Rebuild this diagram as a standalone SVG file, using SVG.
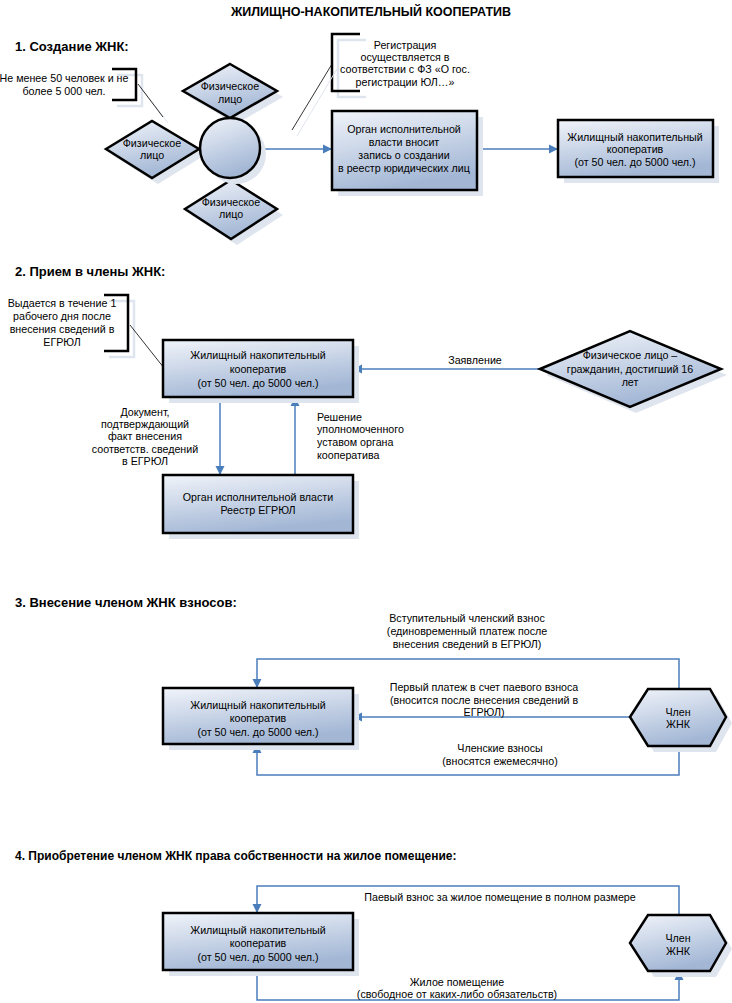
<svg xmlns="http://www.w3.org/2000/svg" width="732" height="1003" viewBox="0 0 732 1003">
<defs>
<linearGradient id="g" x1="0" y1="0" x2="0.35" y2="1">
<stop offset="0" stop-color="#f1f4fa"/>
<stop offset="1" stop-color="#a3b7d5"/>
</linearGradient>
<marker id="arr" markerUnits="userSpaceOnUse" markerWidth="10" markerHeight="10" refX="9" refY="5" orient="auto">
<path d="M0,0.5 L9,5 L0,9.5 z" fill="#4a7ebb"/>
</marker>
<style>
.sh{fill:#dfe5ee;stroke:none}
.shl{fill:none;stroke:#dfe5ee;stroke-width:2.5}
.shn{fill:none;stroke:#dfe5ee;stroke-width:1}
.nd{fill:url(#g);stroke:#000;stroke-width:2.5}
.br{fill:none;stroke:#000;stroke-width:2.5}
.ld{fill:none;stroke:#000;stroke-width:0.8}
.c{fill:none;stroke:#4a7ebb;stroke-width:1.5}
.ca{fill:none;stroke:#4a7ebb;stroke-width:1.5;marker-end:url(#arr)}
text{font-family:"Liberation Sans",Arial,sans-serif;font-size:10.7px;fill:#000}
.m{text-anchor:middle}
.h{font-weight:bold;font-size:13px}
.h4{font-weight:bold;font-size:12px}
.tt{font-weight:bold;font-size:12.5px}
</style>
</defs>
<rect width="732" height="1003" fill="#fff"/>

<g id="titles">
<text class="tt m" x="371" y="16">ЖИЛИЩНО-НАКОПИТЕЛЬНЫЙ КООПЕРАТИВ</text>
<text class="h" x="15" y="51">1. Создание ЖНК:</text>
<text class="h" x="15" y="276">2. Прием в члены ЖНК:</text>
<text class="h" x="15" y="607">3. Внесение членом ЖНК взносов:</text>
<text class="h4" x="15" y="860">4. Приобретение членом ЖНК права собственности на жилое помещение:</text>
</g>

<!-- Section 1 -->
<g id="note1">
<path class="shl" d="M117,75 H142 V106 H117"/>
<path class="br" d="M112,69 H136 V100 H112"/>
<line class="shn" x1="143" y1="90" x2="168" y2="123"/>
<line class="ld" x1="138" y1="84" x2="163" y2="117"/>
<text class="m" x="64" y="82">Не менее 50 человек и не</text>
<text class="m" x="64" y="95">более 5 000 чел.</text>
</g>
<g id="note2">
<path class="shl" d="M366,40 H338 V97 H366"/>
<path class="br" d="M360,34 H332 V91 H360"/>
<line class="shn" x1="337" y1="69" x2="297" y2="136"/>
<line class="ld" x1="332" y1="64" x2="292" y2="130"/>
<text class="m" x="405" y="49">Регистрация</text>
<text class="m" x="405" y="61">осуществляется в</text>
<text class="m" x="405" y="73">соответствии с ФЗ «О гос.</text>
<text class="m" x="405" y="86">регистрации ЮЛ…»</text>
</g>

<g id="connectors">
<path class="ca" d="M260,149 H332"/>
<path class="ca" d="M477,149 H558"/>
<path class="ca" d="M540,369 H353"/>
<path class="ca" d="M220,397 V475"/>
<path class="ca" d="M295,475 V397"/>
<path class="ca" d="M679,689 V659 H257 V688"/>
<path class="ca" d="M630,717 H353"/>
<path class="ca" d="M679,746 V775 H257 V744"/>
<path class="ca" d="M679,915 V886 H257 V913"/>
<path class="ca" d="M257,970 V1000 H679 V971"/>
</g>

<g id="d-top">
<polygon class="sh" points="236,70 283,97 236,124 189,97"/>
<polygon class="nd" points="230,64 277,91 230,118 183,91"/>
<text class="m" x="230" y="90">Физическое</text>
<text class="m" x="230" y="103">лицо</text>
</g>
<g id="d-left">
<polygon class="sh" points="112,155 158,127 205,155 158,184"/>
<polygon class="nd" points="106,149 152,121 199,149 152,178"/>
<text class="m" x="152" y="147">Физическое</text>
<text class="m" x="152" y="159">лицо</text>
</g>
<g id="d-bottom">
<polygon class="sh" points="237,186 283,215 237,245 191,215"/>
<polygon class="nd" points="231,180 277,209 231,239 185,209"/>
<text class="m" x="231" y="206">Физическое</text>
<text class="m" x="231" y="218">лицо</text>
</g>
<g id="circle">
<circle class="sh" cx="236" cy="154" r="30"/>
<circle class="nd" cx="230" cy="148" r="30"/>
</g>
<g id="organ1">
<rect class="sh" x="338" y="117" width="145" height="79"/>
<rect class="nd" x="332" y="111" width="145" height="79"/>
<text class="m" x="404" y="133">Орган исполнительной</text>
<text class="m" x="404" y="146">власти вносит</text>
<text class="m" x="404" y="159">запись о создании</text>
<text class="m" x="404" y="172">в реестр юридических лиц</text>
</g>
<g id="zhnk1">
<rect class="sh" x="564" y="126" width="155" height="57"/>
<rect class="nd" x="558" y="120" width="155" height="57"/>
<text class="m" x="635" y="141">Жилищный накопительный</text>
<text class="m" x="635" y="153">кооператив</text>
<text class="m" x="635" y="166">(от 50 чел. до 5000 чел.)</text>
</g>

<!-- Section 2 -->
<g id="note3">
<path class="shl" d="M109,301 H134 V357 H109"/>
<path class="br" d="M104,295 H128 V351 H104"/>
<line class="ld" x1="130" y1="325" x2="164" y2="368"/>
<text class="m" x="62" y="307">Выдается в течение 1</text>
<text class="m" x="62" y="320">рабочего дня после</text>
<text class="m" x="62" y="333">внесения сведений в</text>
<text class="m" x="62" y="346">ЕГРЮЛ</text>
</g>
<g id="zhnk2">
<rect class="sh" x="169" y="346" width="190" height="57"/>
<rect class="nd" x="163" y="340" width="190" height="57"/>
<text class="m" x="258" y="359">Жилищный накопительный</text>
<text class="m" x="258" y="373">кооператив</text>
<text class="m" x="258" y="387">(от 50 чел. до 5000 чел.)</text>
</g>
<g id="organ2">
<rect class="sh" x="169" y="481" width="190" height="58"/>
<rect class="nd" x="163" y="475" width="190" height="58"/>
<text class="m" x="258" y="501">Орган исполнительной власти</text>
<text class="m" x="258" y="514">Реестр ЕГРЮЛ</text>
</g>
<g id="person2">
<polygon class="sh" points="546,375 636,337 727,375 636,413"/>
<polygon class="nd" points="540,369 630,331 721,369 630,407"/>
<text class="m" x="630" y="359">Физическое лицо –</text>
<text class="m" x="630" y="373">гражданин, достигший 16</text>
<text class="m" x="630" y="386">лет</text>
</g>
<g id="labels2">
<text class="m" x="475" y="364">Заявление</text>
<text class="m" x="145" y="416">Документ,</text>
<text class="m" x="145" y="428">подтверждающий</text>
<text class="m" x="145" y="440">факт внесения</text>
<text class="m" x="145" y="453">соответств. сведений</text>
<text class="m" x="145" y="465">в ЕГРЮЛ</text>
<text x="317" y="421">Решение</text>
<text x="317" y="433">уполномоченного</text>
<text x="317" y="446">уставом органа</text>
<text x="317" y="459">кооператива</text>
</g>

<!-- Section 3 -->
<g id="zhnk3">
<rect class="sh" x="169" y="694" width="190" height="56"/>
<rect class="nd" x="163" y="688" width="190" height="56"/>
<text class="m" x="258" y="709">Жилищный накопительный</text>
<text class="m" x="258" y="722">кооператив</text>
<text class="m" x="258" y="736">(от 50 чел. до 5000 чел.)</text>
</g>
<g id="member3">
<polygon class="sh" points="636,723 654,695 716,695 732,723 716,752 654,752"/>
<polygon class="nd" points="630,717 648,689 710,689 726,717 710,746 648,746"/>
<text class="m" x="678" y="716">Член</text>
<text class="m" x="678" y="728">ЖНК</text>
</g>
<g id="labels3">
<text class="m" x="467" y="622">Вступительный членский взнос</text>
<text class="m" x="467" y="635">(единовременный платеж после</text>
<text class="m" x="467" y="648">внесения сведений в ЕГРЮЛ)</text>
<text class="m" x="484" y="691">Первый платеж в счет паевого взноса</text>
<text class="m" x="484" y="704">(вносится после внесения сведений в</text>
<text class="m" x="484" y="716">ЕГРЮЛ)</text>
<text class="m" x="500" y="752">Членские взносы</text>
<text class="m" x="500" y="765">(вносятся ежемесячно)</text>
</g>

<!-- Section 4 -->
<g id="zhnk4">
<rect class="sh" x="169" y="919" width="190" height="57"/>
<rect class="nd" x="163" y="913" width="190" height="57"/>
<text class="m" x="258" y="934">Жилищный накопительный</text>
<text class="m" x="258" y="947">кооператив</text>
<text class="m" x="258" y="961">(от 50 чел. до 5000 чел.)</text>
</g>
<g id="member4">
<polygon class="sh" points="636,949 654,921 716,921 732,949 716,977 654,977"/>
<polygon class="nd" points="630,943 648,915 710,915 726,943 710,971 648,971"/>
<text class="m" x="678" y="942">Член</text>
<text class="m" x="678" y="955">ЖНК</text>
</g>
<g id="labels4">
<text class="m" x="500" y="901">Паевый взнос за жилое помещение в полном размере</text>
<text class="m" x="457" y="986">Жилое помещение</text>
<text class="m" x="457" y="998">(свободное от каких-либо обязательств)</text>
</g>
</svg>
